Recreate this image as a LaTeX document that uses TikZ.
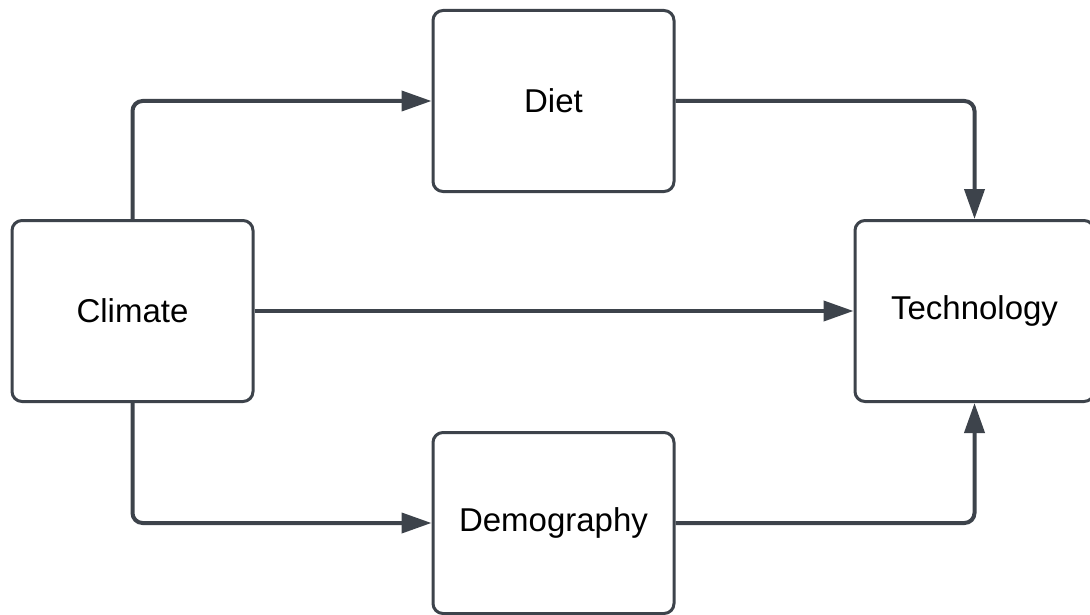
\documentclass[tikz,border=0pt]{standalone}
\usepackage{fontspec}
\setmainfont{Liberation Sans}
\usetikzlibrary{arrows.meta}

\definecolor{linegray}{HTML}{3D434B}

\begin{document}
\begin{tikzpicture}[x=1pt, y=-1pt]

    % Define styles
    \tikzset{
        factor box/.style={draw=linegray, line width=3pt, rounded corners=10pt, fill=white,
            minimum width=241pt, minimum height=181pt, font=\fontsize{33}{39}\selectfont},
        link arrow/.style={-{Triangle[length=30pt, width=20pt]}, draw=linegray, line width=4pt,
            rounded corners=10pt}
    }

    % Fix the picture frame
    \useasboundingbox (0, 0) rectangle (1090, 615);

    % Boxes
    \node[factor box] (climate) at (132.5, 311) {Climate};
    \node[factor box] (diet) at (553.5, 101) {Diet};
    \node[factor box] (demography) at (553.5, 523) {Demography};
    \node[factor box, minimum width=239pt] (technology) at (974.5, 311) {Technology};

    % Links from climate
    \draw[link arrow] (climate.north) |- (diet.west);
    \draw[link arrow] (climate.east) -- (technology.west);
    \draw[link arrow] (climate.south) |- (demography.west);

    % Links into technology
    \draw[link arrow] (diet.east) -| (technology.north);
    \draw[link arrow] (demography.east) -| (technology.south);

\end{tikzpicture}
\end{document}
